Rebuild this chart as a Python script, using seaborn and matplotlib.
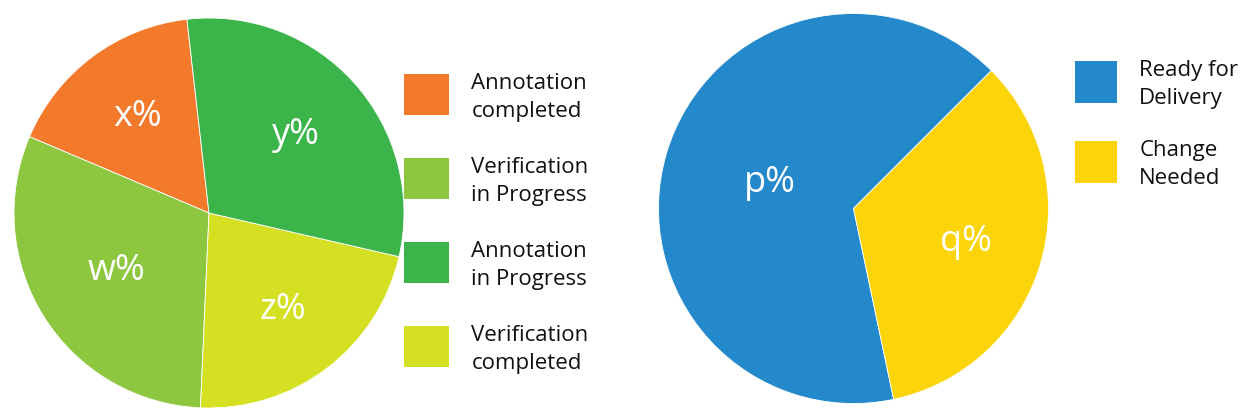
import matplotlib
matplotlib.use("Agg")
import matplotlib.pyplot as plt
import matplotlib.patches as mpatches
from matplotlib.legend_handler import HandlerPatch
import seaborn as sns

# ---- data ----
status_categories = ["Annotation\ncompleted", "Verification\nin Progress",
                     "Annotation\nin Progress", "Verification\ncompleted"]
status_values = [16.8, 30.7, 30.4, 22.1]
status_labels = ["x%", "w%", "y%", "z%"]
status_colors = ["#F37A2B", "#8DC63F", "#3BB54A", "#D6E022"]
pie_draw_order = [0, 1, 3, 2]          # order of slices around the pie

delivery_categories = ["Ready for\nDelivery", "Change\nNeeded"]
delivery_values = [65.8, 34.2]
delivery_labels = ["p%", "q%"]
delivery_colors = ["#2389CA", "#FCD40A"]

# ---- style ----
sns.set_theme(style="white")
plt.rcParams["font.family"] = ["Open Sans", "DejaVu Sans"]

W, H = 1243, 419
fig = plt.figure(figsize=(W / 100, H / 100), dpi=100)


def px_axes(cx, cy, r):
    return fig.add_axes([(cx - r) / W, (H - cy - r) / H, 2 * r / W, 2 * r / H])


def draw_pie(ax, values, colors, labels, startangle, label_dist):
    wedges, texts = ax.pie(values, colors=colors, labels=labels,
                           labeldistance=1.0, startangle=startangle,
                           counterclock=True,
                           wedgeprops=dict(linewidth=0.6, edgecolor="white"),
                           textprops=dict(color="white", fontsize=26))
    for t, d in zip(texts, label_dist):
        x, y = t.get_position()
        t.set_position((x * d, y * d))
        t.set_ha("center")
        t.set_va("center")
    ax.set_xlim(-1, 1)
    ax.set_ylim(-1, 1)
    ax.set_aspect("equal")
    ax.axis("off")


# left pie
ax1 = px_axes(209, 213, 195)
draw_pie(ax1,
         [status_values[i] for i in pie_draw_order],
         [status_colors[i] for i in pie_draw_order],
         [status_labels[i] for i in pie_draw_order],
         96.5, [0.615, 0.56, 0.625, 0.6])

# right pie
ax2 = px_axes(853.5, 208.5, 195)
draw_pie(ax2, delivery_values, delivery_colors, delivery_labels, 45, [0.45, 0.6])


def shifted_rect(legend, orig_handle, xdescent, ydescent, width, height, fontsize):
    return mpatches.Rectangle((-xdescent, -ydescent + 3.0), width, height)


def add_legend(categories, colors, x, y, labelspacing, hl, hh):
    handles = [mpatches.Patch(facecolor=c, edgecolor="none", label=l)
               for c, l in zip(colors, categories)]
    leg = fig.legend(handles=handles, loc="upper left",
                     bbox_to_anchor=(x / W, 1 - y / H), frameon=False,
                     fontsize=16, handlelength=hl, handleheight=hh,
                     handletextpad=1.0, labelspacing=labelspacing,
                     borderpad=0, borderaxespad=0,
                     handler_map={mpatches.Patch: HandlerPatch(patch_func=shifted_rect)})
    for t in leg.get_texts():
        t.set_multialignment("left")
        t.set_linespacing(1.45)
        t.set_color("#111111")
    return leg


add_legend(status_categories, status_colors, 404, 73, 1.56, 2.03, 2.46)
add_legend(delivery_categories, delivery_colors, 1075, 60, 1.39, 1.89, 2.53)

fig.savefig("out.png", dpi=100, facecolor="white")
